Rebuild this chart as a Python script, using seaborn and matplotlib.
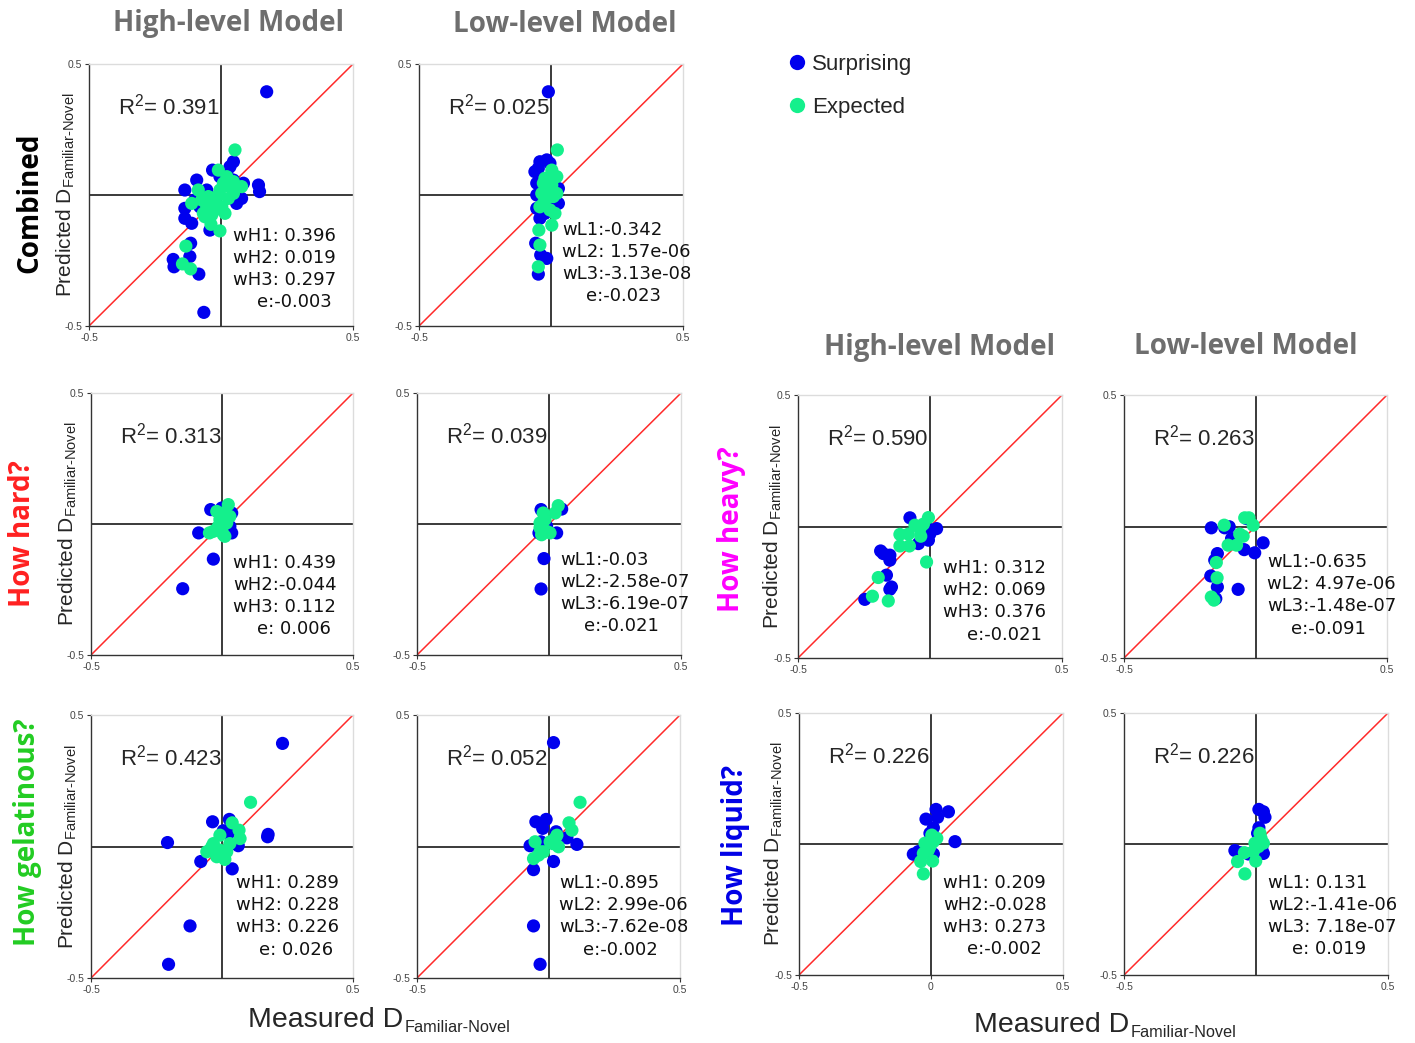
import numpy as np
import pandas as pd
import matplotlib
matplotlib.use('Agg')
import matplotlib.pyplot as plt
import seaborn as sns
from matplotlib.lines import Line2D

# ---------------- data ----------------
# Combined / High-level
comb_hi_sx = [0.173, -0.065, -0.181, -0.178, -0.115, -0.118, -0.084, -0.137, -0.137, -0.137, -0.092, -0.032,
              0.034, 0.047, 0.142, 0.146, 0.078, 0.085, -0.042, -0.111, -0.080, 0.022, -0.054, -0.004, 0.047,
              -0.029, 0.059, -0.099]
comb_hi_sy = [0.394, -0.448, -0.246, -0.274, -0.184, -0.235, -0.302, 0.019, -0.051, -0.089, 0.057, 0.095,
              0.108, 0.127, 0.038, 0.013, -0.013, 0.045, -0.134, -0.108, -0.045, 0.083, 0.019, 0.070, 0.057,
              -0.045, -0.032, -0.019]
comb_hi_ex = [0.053, -0.133, -0.146, -0.115, -0.004, -0.038, 0.078, -0.111, -0.086, -0.067, -0.054, -0.029,
              -0.016, -0.004, 0.009, 0.022, 0.034, 0.047, 0.003, -0.023, -0.048, -0.073, -0.010, 0.028,
              -0.035, 0.015, 0.047, -0.061]
comb_hi_ey = [0.172, -0.195, -0.263, -0.282, -0.137, -0.112, 0.032, -0.032, 0.019, -0.070, -0.045, -0.025,
              -0.006, 0.019, 0.045, 0.070, 0.032, 0.006, -0.045, -0.057, -0.006, -0.019, 0.095, -0.013,
              -0.076, -0.070, 0.051, -0.083]
# Combined / Low-level
comb_lo_sx = [-0.010, -0.048, -0.058, -0.016, -0.039, -0.048, -0.042, -0.016, -0.054, 0.028, 0.028, -0.054,
              -0.054, -0.042, -0.023, 0.003, -0.061, -0.004]
comb_lo_sy = [0.394, -0.302, -0.184, -0.242, -0.229, 0.102, 0.127, 0.134, 0.045, -0.032, 0.025, 0.000,
              -0.051, -0.089, -0.070, -0.032, 0.089, 0.121]
comb_lo_ex = [0.024, -0.046, -0.042, -0.048, 0.003, 0.003, 0.022, -0.029, -0.016, 0.009, 0.022, -0.029,
              -0.004, -0.042, 0.015, -0.016, -0.035, 0.003, -0.023]
comb_lo_ey = [0.172, -0.134, -0.191, -0.274, -0.115, 0.095, 0.070, 0.045, 0.019, -0.006, 0.006, -0.032,
              -0.057, -0.045, -0.070, -0.013, 0.006, 0.038, 0.064]
# How hard? / High-level
hard_hi_sx = [-0.150, -0.033, -0.089, -0.043, -0.001, 0.037, 0.037, 0.030]
hard_hi_sy = [-0.247, -0.134, -0.034, 0.055, 0.061, 0.042, -0.034, -0.009]
hard_hi_ex = [0.024, 0.005, -0.008, -0.020, 0.018, -0.001, 0.011, -0.033, 0.030, -0.014, 0.005, -0.048]
hard_hi_ey = [0.074, 0.042, 0.017, 0.048, 0.004, -0.022, -0.047, -0.028, 0.029, -0.009, -0.041, -0.034]
# How hard? / Low-level
hard_lo_sx = [-0.030, -0.019, -0.030, -0.038, 0.029, 0.048, -0.009]
hard_lo_sy = [-0.248, -0.132, 0.055, -0.034, -0.034, 0.057, -0.009]
hard_lo_ex = [0.035, 0.023, -0.022, -0.034, -0.028, -0.009, 0.004, -0.015, -0.034]
hard_lo_ey = [0.070, 0.042, 0.042, 0.004, -0.041, -0.028, -0.034, 0.017, -0.015]
# How gelatinous? / High-level
gel_hi_sx = [0.231, -0.208, -0.122, -0.204, -0.081, -0.036, 0.028, 0.039, 0.174, 0.176, 0.062, 0.005, 0.024]
gel_hi_sy = [0.392, 0.015, -0.302, -0.448, -0.057, 0.094, 0.103, -0.085, 0.037, 0.046, 0.003, 0.060, 0.049]
gel_hi_ex = [0.109, 0.039, 0.065, 0.069, 0.030, -0.008, -0.033, -0.046, -0.020, 0.011, -0.039, 0.018,
             -0.058, -0.008]
gel_hi_ey = [0.168, 0.090, 0.062, 0.030, 0.011, 0.043, 0.011, -0.014, -0.039, -0.049, -0.001, -0.020,
             -0.020, -0.014]
# How gelatinous? / Low-level
gel_lo_sx = [0.019, -0.057, -0.032, -0.057, 0.019, -0.048, -0.009, -0.022, -0.070, 0.108, 0.070, 0.029, -0.029]
gel_lo_sy = [0.395, -0.302, -0.448, -0.088, -0.057, 0.094, 0.103, 0.069, 0.003, 0.008, 0.033, 0.056, 0.018]
gel_lo_ex = [0.120, 0.078, 0.089, 0.038, 0.025, 0.006, -0.019, -0.038, -0.057, -0.051, -0.032, 0.032, 0.016]
gel_lo_ey = [0.168, 0.090, 0.062, -0.001, 0.030, 0.018, -0.020, -0.033, -0.046, 0.018, -0.020, 0.043, 0.011]
# How heavy? / High-level
heavy_hi_sx = [-0.247, -0.152, -0.146, -0.165, -0.187, -0.177, -0.152, -0.152, -0.076, -0.044, -0.006,
               0.000, 0.025, -0.013]
heavy_hi_sy = [-0.277, -0.239, -0.230, -0.185, -0.093, -0.103, -0.109, -0.128, 0.033, -0.065, -0.052,
               -0.027, -0.008, -0.001]
heavy_hi_ex = [-0.218, -0.196, -0.158, -0.013, -0.114, -0.082, -0.114, -0.078, -0.035, -0.057, -0.025,
               -0.006, -0.038]
heavy_hi_ey = [-0.265, -0.194, -0.283, -0.135, -0.030, -0.029, -0.074, -0.074, -0.037, 0.005, 0.009,
               0.034, -0.008]
# How heavy? / Low-level
heavy_lo_sx = [-0.168, -0.117, -0.100, -0.091, -0.043, -0.003, 0.029, -0.145, -0.155, -0.170, -0.145,
               -0.066, -0.151, -0.034]
heavy_lo_sy = [-0.005, -0.005, -0.001, -0.046, -0.088, -0.100, -0.062, -0.103, -0.128, -0.188, -0.230,
               -0.239, -0.274, 0.030]
heavy_lo_ex = [-0.119, -0.149, -0.146, -0.168, -0.158, -0.104, -0.072, -0.060, -0.047, -0.041, -0.025, -0.009]
heavy_lo_ey = [0.005, -0.137, -0.195, -0.268, -0.280, -0.071, -0.071, -0.029, -0.037, 0.033, 0.033, 0.005]
# How liquid? / High-level
liq_hi_sx = [0.019, 0.025, -0.019, 0.066, 0.009, 0.091, -0.067, -0.048, 0.009, -0.004]
liq_hi_sy = [0.132, 0.102, 0.095, 0.123, 0.062, 0.009, -0.039, -0.029, -0.038, 0.041]
liq_hi_ex = [-0.029, -0.039, 0.006, 0.003, 0.022, -0.023, -0.010, -0.004, 0.009, -0.029]
liq_hi_ey = [-0.114, -0.067, -0.065, 0.034, 0.022, 0.003, -0.023, -0.010, 0.009, -0.036]
# How liquid? / Low-level
liq_lo_sx = [0.011, 0.028, 0.034, 0.011, 0.006, -0.080, -0.061, -0.029, 0.028, 0.022]
liq_lo_sy = [0.132, 0.123, 0.102, 0.062, 0.041, -0.025, -0.033, -0.038, -0.036, -0.016]
liq_lo_ex = [-0.042, -0.070, -0.044, -0.001, 0.015, -0.004, 0.009, 0.028, -0.010, 0.019]
liq_lo_ey = [-0.114, -0.067, -0.033, -0.065, 0.041, 0.003, -0.010, 0.003, -0.029, 0.022]

r2_values = ['0.391', '0.025', '0.313', '0.039', '0.423', '0.052', '0.590', '0.263', '0.226', '0.226']

weights_comb_hi = ['wH1: 0.396', 'wH2: 0.019', 'wH3: 0.297', 'e:-0.003']
weights_comb_lo = ['wL1:-0.342', 'wL2: 1.57e-06', 'wL3:-3.13e-08', 'e:-0.023']
weights_hard_hi = ['wH1: 0.439', 'wH2:-0.044', 'wH3: 0.112', 'e: 0.006']
weights_hard_lo = ['wL1:-0.03', 'wL2:-2.58e-07', 'wL3:-6.19e-07', 'e:-0.021']
weights_gel_hi = ['wH1: 0.289', 'wH2: 0.228', 'wH3: 0.226', 'e: 0.026']
weights_gel_lo = ['wL1:-0.895', 'wL2: 2.99e-06', 'wL3:-7.62e-08', 'e:-0.002']
weights_heavy_hi = ['wH1: 0.312', 'wH2: 0.069', 'wH3: 0.376', 'e:-0.021']
weights_heavy_lo = ['wL1:-0.635', 'wL2: 4.97e-06', 'wL3:-1.48e-07', 'e:-0.091']
weights_liq_hi = ['wH1: 0.209', 'wH2:-0.028', 'wH3: 0.273', 'e:-0.002']
weights_liq_lo = ['wL1: 0.131', 'wL2:-1.41e-06', 'wL3: 7.18e-07', 'e: 0.019']

series_names = ['Surprising', 'Expected']
series_colors = ['#0000EE', '#14F08C']
col_headers = ['High-level Model', 'Low-level Model']
row_labels = ['Combined', 'How hard?', 'How gelatinous?', 'How heavy?', 'How liquid?']
row_colors = ['#000000', '#FF2020', '#22CC22', '#FF00FF', '#0000E6']
x_label_main = 'Measured D'
y_label_main = 'Predicted D'
label_sub = 'Familiar-Novel'

# ---------------- style ----------------
sns.set_theme(style='white')
plt.rcParams['font.family'] = ['Liberation Sans', 'DejaVu Sans']
plt.rcParams['mathtext.fontset'] = 'custom'
plt.rcParams['mathtext.rm'] = 'Liberation Sans'
plt.rcParams['mathtext.it'] = 'Liberation Sans:italic'
plt.rcParams['mathtext.bf'] = 'Liberation Sans:bold'

W, H = 1415, 1043
fig = plt.figure(figsize=(W / 100, H / 100), dpi=100)
fig.patch.set_facecolor('white')
renderer = fig.canvas.get_renderer()


def add_ax(L, T, R, B):
    return fig.add_axes([L / W, 1 - B / H, (R - L) / W, (B - T) / H])


def draw_panel(ax, sx, sy, ex, ey, r2, wlines, wx, wy, ylab_x, zero_tick=False):
    df = pd.DataFrame({
        'x': list(sx) + list(ex),
        'y': list(sy) + list(ey),
        'type': [series_names[0]] * len(sx) + [series_names[1]] * len(ex),
    })
    ax.axhline(0, color='#2b2b2b', lw=1.3, zorder=1)
    ax.axvline(0, color='#2b2b2b', lw=1.3, zorder=1)
    ax.axline((0, 0), slope=1, color='#FF2A2A', lw=1.1, zorder=1.5)
    sns.scatterplot(data=df, x='x', y='y', hue='type', hue_order=series_names,
                    palette=series_colors, s=90, linewidth=0, alpha=1, ax=ax,
                    legend=False, zorder=3)
    ax.set_xlim(-0.5, 0.5)
    ax.set_ylim(-0.5, 0.5)
    ax.set_xlabel('')
    ax.set_ylabel('')
    if zero_tick:
        ax.set_xticks([-0.5, 0, 0.5])
        ax.set_xticklabels(['-0.5', '0', '0.5'])
    else:
        ax.set_xticks([-0.5, 0.5])
        ax.set_xticklabels(['-0.5', '0.5'])
    ax.set_yticks([-0.5, 0.5])
    ax.set_yticklabels(['-0.5', '0.5'])
    ax.tick_params(axis='both', which='both', direction='out', length=3, width=0.8,
                   color='#333333', labelsize=7.5, labelcolor='#444444', pad=2,
                   bottom=True, left=True)
    for side in ['left', 'bottom']:
        ax.spines[side].set_color('#333333')
        ax.spines[side].set_linewidth(1.0)
    for side in ['top', 'right']:
        ax.spines[side].set_color('#dcdcdc')
        ax.spines[side].set_linewidth(1.0)
    ax.text(-0.39, 0.308, r'R$^2$= ' + r2, fontsize=16, ha='left', va='baseline', zorder=4)
    dy = 0.0843
    for i, line in enumerate(wlines):
        xx = wx + (0.09 if i == 3 else 0.0)
        ax.text(xx, wy - i * dy, line, fontsize=13, family='DejaVu Sans', ha='left',
                va='baseline', color='#111111', zorder=4, clip_on=False)
    if ylab_x is not None:
        ax.text(ylab_x, 0.5, y_label_main + r'$_{\text{' + label_sub + '}}$', transform=ax.transAxes,
                rotation=90, ha='center', va='center', fontsize=15)


panels = [
    # (L, T, R, B), data, r2 index, weights, wx, wy, ylab_x, zero_tick
    ((89, 64, 353, 326), (comb_hi_sx, comb_hi_sy, comb_hi_ex, comb_hi_ey), 0, weights_comb_hi, 0.045, -0.176, -0.087, False),
    ((419, 64, 683, 326), (comb_lo_sx, comb_lo_sy, comb_lo_ex, comb_lo_ey), 1, weights_comb_lo, 0.042, -0.153, None, False),
    ((91, 393, 353, 655), (hard_hi_sx, hard_hi_sy, hard_hi_ex, hard_hi_ey), 2, weights_hard_hi, 0.042, -0.168, -0.087, False),
    ((417, 393, 681, 655), (hard_lo_sx, hard_lo_sy, hard_lo_ex, hard_lo_ey), 3, weights_hard_lo, 0.042, -0.156, None, False),
    ((91, 715, 353, 978), (gel_hi_sx, gel_hi_sy, gel_hi_ex, gel_hi_ey), 4, weights_gel_hi, 0.053, -0.158, -0.087, False),
    ((417, 715, 680, 978), (gel_lo_sx, gel_lo_sy, gel_lo_ex, gel_lo_ey), 5, weights_gel_lo, 0.040, -0.158, None, False),
    ((798, 395, 1062, 658), (heavy_hi_sx, heavy_hi_sy, heavy_hi_ex, heavy_hi_ey), 6, weights_heavy_hi, 0.049, -0.177, -0.095, False),
    ((1124, 395, 1387, 658), (heavy_lo_sx, heavy_lo_sy, heavy_lo_ex, heavy_lo_ey), 7, weights_heavy_lo, 0.044, -0.154, None, False),
    ((799, 713, 1063, 975), (liq_hi_sx, liq_hi_sy, liq_hi_ex, liq_hi_ey), 8, weights_liq_hi, 0.045, -0.168, -0.095, True),
    ((1124, 713, 1388, 975), (liq_lo_sx, liq_lo_sy, liq_lo_ex, liq_lo_ey), 9, weights_liq_lo, 0.045, -0.168, None, False),
]

for box, d, ri, wl, wx, wy, ylx, zt in panels:
    ax = add_ax(*box)
    draw_panel(ax, *d, r2_values[ri], wl, wx, wy, ylx, zt)

# column headers
hdr_kw = dict(ha='center', va='center', fontsize=20, fontweight='bold', color='#6e6e6e', family='Open Sans')
fig.text(228 / W, 1 - 24 / H, col_headers[0], **hdr_kw)
fig.text(565 / W, 1 - 24 / H, col_headers[1], **hdr_kw)
fig.text(940 / W, 1 - 347 / H, col_headers[0], **hdr_kw)
fig.text(1246 / W, 1 - 347 / H, col_headers[1], **hdr_kw)

# row labels
row_pos = [(30, 203), (23, 534), (27, 832), (731, 529), (735, 846)]
for (px, py), lab, colr in zip(row_pos, row_labels, row_colors):
    fig.text(px / W, 1 - py / H, lab, rotation=90, ha='center', va='center', fontsize=20,
             fontweight='bold', color=colr, family='Open Sans')

# bottom labels: main text plus a smaller subscript placed right after it
for px, base in [(248, 1027), (974, 1032)]:
    t = fig.text(px / W, 1 - base / H, x_label_main, ha='left', va='baseline', fontsize=20.5)
    bb = t.get_window_extent(renderer)
    fig.text((bb.x1 + 1) / W, 1 - (base + 5) / H, label_sub, ha='left', va='baseline', fontsize=11.7)

# legend
handles = [Line2D([], [], marker='o', ls='', color=c, markersize=11, markeredgewidth=0) for c in series_colors]
fig.legend(handles, series_names, loc='upper left', bbox_to_anchor=(770 / W, 1 - 38 / H), frameon=False,
           fontsize=16, handletextpad=0.2, labelspacing=1.0, handlelength=1.0, borderpad=0.2)

fig.savefig('out.png', dpi=100, facecolor='white')
